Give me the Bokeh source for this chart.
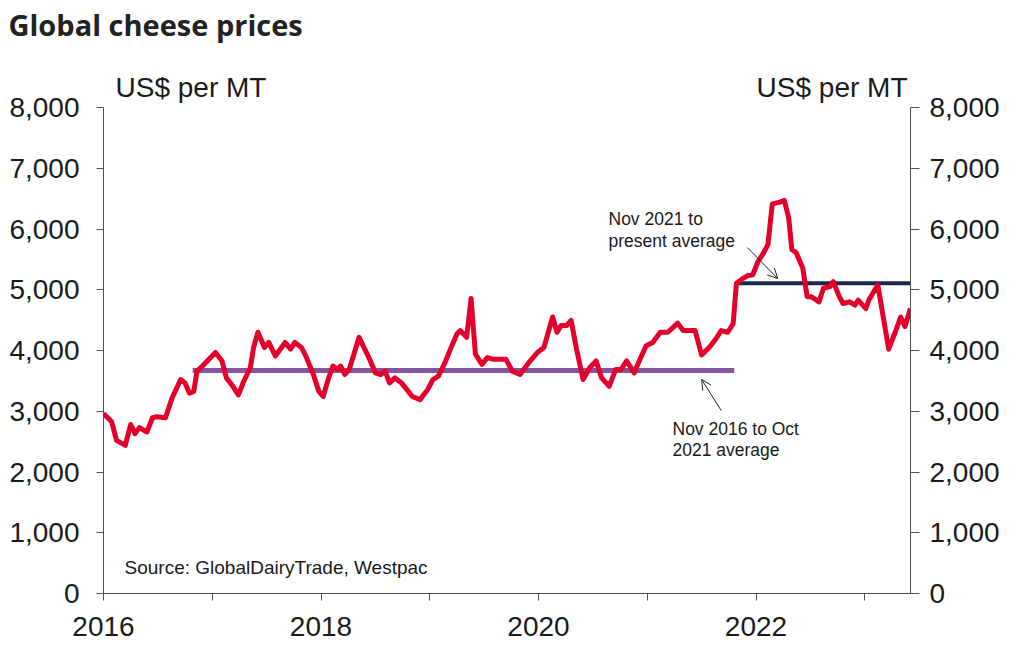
from bokeh.plotting import figure
from bokeh.models import (Range1d, LinearAxis, FixedTicker, NumeralTickFormatter,
                          Label, Arrow, OpenHead, ColumnDataSource)
from bokeh.embed import file_html
from bokeh.resources import INLINE

# ---------------- data ----------------
t_year = [2016.00, 2016.075, 2016.12, 2016.20, 2016.25, 2016.29, 2016.33, 2016.40, 2016.45, 2016.49,
          2016.57, 2016.63, 2016.71, 2016.75, 2016.79, 2016.83, 2016.86, 2016.91, 2016.97, 2017.03,
          2017.09, 2017.13, 2017.19, 2017.24, 2017.29, 2017.35, 2017.38, 2017.42, 2017.48, 2017.52,
          2017.58, 2017.67, 2017.72, 2017.76, 2017.82, 2017.86, 2017.93, 2017.98, 2018.02, 2018.07,
          2018.11, 2018.15, 2018.18, 2018.22, 2018.26, 2018.35, 2018.44, 2018.50, 2018.55, 2018.59,
          2018.63, 2018.68, 2018.74, 2018.79, 2018.84, 2018.91, 2018.98, 2019.03, 2019.08, 2019.14,
          2019.19, 2019.25, 2019.28, 2019.34, 2019.38, 2019.42, 2019.48, 2019.53, 2019.59, 2019.65,
          2019.70, 2019.76, 2019.83, 2019.91, 2019.99, 2020.05, 2020.09, 2020.13, 2020.17, 2020.21,
          2020.26, 2020.30, 2020.35, 2020.41, 2020.47, 2020.53, 2020.58, 2020.65, 2020.71, 2020.76,
          2020.81, 2020.88, 2020.94, 2020.99, 2021.05, 2021.12, 2021.19, 2021.28, 2021.33, 2021.39,
          2021.44, 2021.50, 2021.57, 2021.63, 2021.68, 2021.74, 2021.79, 2021.82, 2021.87, 2021.92,
          2021.97, 2022.02, 2022.07, 2022.11, 2022.15, 2022.22, 2022.26, 2022.30, 2022.33, 2022.37,
          2022.43, 2022.47, 2022.51, 2022.58, 2022.62, 2022.68, 2022.71, 2022.76, 2022.80, 2022.86,
          2022.91, 2022.94, 2023.01, 2023.04, 2023.12, 2023.17, 2023.22, 2023.28, 2023.33, 2023.37,
          2023.42]
price = [2965, 2826, 2520, 2437, 2782, 2631, 2731, 2659, 2893, 2910,
         2893, 3216, 3522, 3466, 3299, 3327, 3661, 3744, 3855, 3967,
         3827, 3549, 3410, 3271, 3494, 3716, 4050, 4300, 4050, 4133,
         3911, 4133, 4022, 4133, 4050, 3911, 3605, 3327, 3243, 3549,
         3744, 3689, 3744, 3605, 3689, 4217, 3883, 3633, 3605, 3661,
         3466, 3549, 3466, 3355, 3243, 3188, 3355, 3522, 3577, 3800,
         4022, 4273, 4328, 4217, 4857, 3939, 3772, 3883, 3855, 3855,
         3855, 3661, 3605, 3800, 3967, 4050, 4300, 4551, 4300, 4412,
         4412, 4495, 4022, 3522, 3716, 3828, 3549, 3410, 3689, 3689,
         3828, 3633, 3883, 4078, 4133, 4300, 4300, 4451, 4328, 4328,
         4328, 3928, 4050, 4189, 4328, 4300, 4440, 5107, 5174, 5230,
         5246, 5469, 5608, 5747, 6414, 6442, 6470, 6192, 5664, 5608,
         5358, 4885, 4885, 4801, 5024, 5052, 5135, 4912, 4773, 4801,
         4746, 4829, 4690, 4840, 5079, 4551, 4022, 4300, 4551, 4395,
         4690]

avg1_span = [2016.82, 2021.80]   # Nov 2016 to Oct 2021
avg1_value = 3672
avg2_span = [2021.82, 2023.42]   # Nov 2021 to present
avg2_value = 5107

year_ticks = [2016, 2017, 2018, 2019, 2020, 2021, 2022, 2023]
year_labels = ["2016", "", "2018", "", "2020", "", "2022", ""]
y_ticks = [0, 1000, 2000, 3000, 4000, 5000, 6000, 7000, 8000]

# ---------------- layout geometry (pixels) ----------------
FONT = "Liberation Sans"
TXT = "#1a1a1a"
AX = "#505050"

W, H = 1010, 650
F_LEFT, F_RIGHT, F_TOP, F_BOTTOM = 103, 910, 45, 593
PX_YEAR = 108.75          # pixels per year
PX_K = 60.75              # pixels per 1,000 US$

x_end = 2016 + (F_RIGHT - F_LEFT) / PX_YEAR
y_top = (F_BOTTOM - F_TOP) / PX_K * 1000

p = figure(width=W, height=H, output_backend="svg", toolbar_location=None,
           x_range=Range1d(2016, x_end), y_range=Range1d(0, y_top),
           min_border_left=F_LEFT, min_border_right=W - F_RIGHT,
           min_border_top=F_TOP, min_border_bottom=H - F_BOTTOM)
p.outline_line_color = None
p.xgrid.visible = False
p.ygrid.visible = False
p.background_fill_color = "white"
p.border_fill_color = "white"

p.title.text = "Global cheese prices"
p.title.text_font = "Open Sans"
p.title.text_font_style = "bold"
p.title.text_font_size = "29px"
p.title.text_color = "#222222"
p.title.align = "left"
p.title.offset = -(F_LEFT - 8)
p.title.standoff = 3

# axes
xa = p.xaxis[0]
xa.ticker = FixedTicker(ticks=year_ticks)
xa.major_label_overrides = {t: l for t, l in zip(year_ticks, year_labels)}
xa.minor_tick_line_color = None
xa.major_tick_in = 0
xa.major_tick_out = 7
xa.major_label_standoff = 16
xa.axis_line_color = AX
xa.major_tick_line_color = AX
xa.major_label_text_font = FONT
xa.major_label_text_font_size = "28px"
xa.major_label_text_color = TXT

ya = p.yaxis[0]
ya.ticker = FixedTicker(ticks=y_ticks)
ya.formatter = NumeralTickFormatter(format="0,0")
ya.bounds = (0, 8000)
ya.minor_tick_line_color = None
ya.major_tick_in = 0
ya.major_tick_out = 7
ya.major_label_standoff = 17
ya.axis_line_color = AX
ya.major_tick_line_color = AX
ya.major_label_text_font = FONT
ya.major_label_text_font_size = "28px"
ya.major_label_text_color = TXT

ra = LinearAxis(ticker=FixedTicker(ticks=y_ticks), formatter=NumeralTickFormatter(format="0,0"),
                bounds=(0, 8000))
ra.minor_tick_line_color = None
ra.major_tick_in = 0
ra.major_tick_out = 9
ra.major_label_standoff = 10
ra.axis_line_color = AX
ra.major_tick_line_color = AX
ra.major_label_text_font = FONT
ra.major_label_text_font_size = "28px"
ra.major_label_text_color = TXT
p.add_layout(ra, "right")

# averages
p.line(avg1_span, [avg1_value, avg1_value], line_color="#84569E", line_width=5)
p.line(avg2_span, [avg2_value, avg2_value], line_color="#1B2A4A", line_width=4)

# price line
src = ColumnDataSource(dict(t=t_year, v=price))
p.line("t", "v", source=src, line_color="#E4002B", line_width=5, line_join="round")

# arrows
p.add_layout(Arrow(end=OpenHead(size=10, line_width=1, line_color="#222222"),
                   x_start=2021.92, y_start=5695, x_end=2022.20, y_end=5185,
                   line_width=1, line_color="#222222"))
p.add_layout(Arrow(end=OpenHead(size=10, line_width=1, line_color="#222222"),
                   x_start=2021.68, y_start=3012, x_end=2021.50, y_end=3523,
                   line_width=1, line_color="#222222"))

def yv(py):
    return (F_BOTTOM - py) / PX_K * 1000

def xv(px):
    return 2016 + (px - F_LEFT) / PX_YEAR

def lab(text, px, py, size, align="left"):
    p.add_layout(Label(x=xv(px), y=yv(py), text=text, text_font=FONT,
                       text_font_size=size, text_align=align, text_baseline="middle",
                       text_color=TXT))

lab("US$ per MT", 115, 87, "28px")
lab("US$ per MT", 907, 87, "28px", align="right")
lab("Nov 2021 to", 608, 218, "17.5px")
lab("present average", 608, 240, "17.5px")
lab("Nov 2016 to Oct", 672, 428, "17.5px")
lab("2021 average", 672, 449, "17.5px")
lab("Source: GlobalDairyTrade, Westpac", 124, 567, "19px")

open("out.html", "w").write(file_html(p, INLINE))
